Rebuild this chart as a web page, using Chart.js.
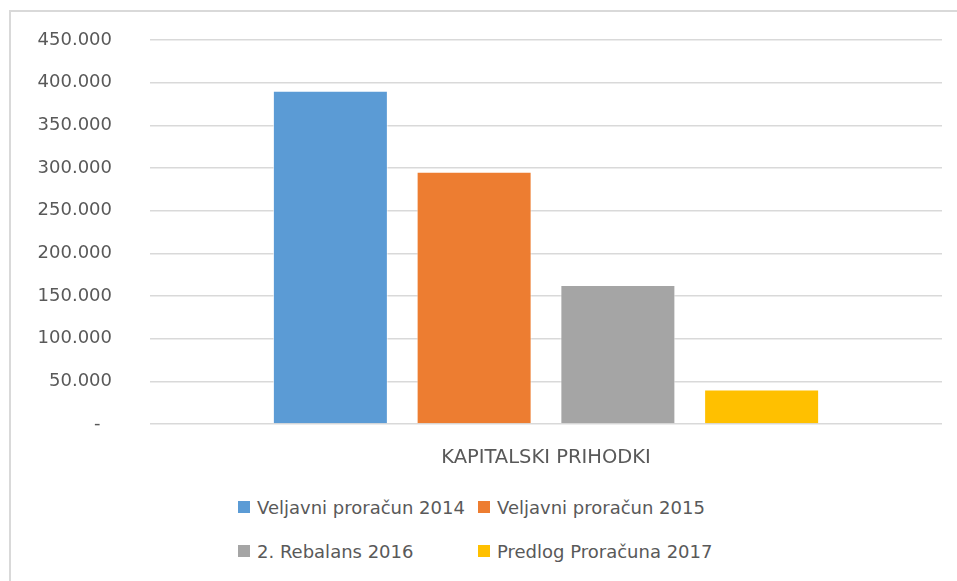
<!DOCTYPE html>
<html>
<head>
<meta charset="utf-8">
<script src="https://cdn.jsdelivr.net/npm/chart.js@4.4.1/dist/chart.umd.min.js"></script>
<style>
  html, body { margin: 0; padding: 0; background: #fff; overflow: hidden; }
  body { width: 957px; height: 581px; position: relative; }
  #frame { position: absolute; left: 9px; top: 10px; width: 1100px; height: 800px; border: 2px solid #d9d9d9; box-sizing: border-box; }
  #wrap { position: absolute; left: 0; top: 0; width: 957px; height: 481px; }
  #legend { position: absolute; left: 238px; top: 493px; display: grid; grid-template-columns: 240px 240px; row-gap: 16px;
    font-family: "DejaVu Sans", sans-serif; font-size: 18px; color: #595959; }
  #legend .item { display: flex; align-items: center; height: 28px; white-space: nowrap; }
  #legend .box { width: 12px; height: 12px; margin-right: 7px; flex: none; }
</style>
</head>
<body>
<div id="frame"></div>
<div id="wrap"><canvas id="myChart" width="957" height="481"></canvas></div>
<div id="legend"></div>
<script>
// data
const categories = ['KAPITALSKI PRIHODKI'];
const seriesNames = ['Veljavni proračun 2014', 'Veljavni proračun 2015', '2. Rebalans 2016', 'Predlog Proračuna 2017'];
const values2014 = [390500];
const values2015 = [295500];
const values2016 = [163000];
const values2017 = [40500];
const colors = ['#5B9BD5', '#ED7D31', '#A5A5A5', '#FFC000'];
const yMax = 450000;
const yStep = 50000;

const allValues = [values2014, values2015, values2016, values2017];

const ctx = document.getElementById('myChart');
const font = { family: '"DejaVu Sans", sans-serif', size: 18 };

const chartData = {
  labels: categories,
  datasets: seriesNames.map((name, i) => ({
    label: name,
    data: allValues[i],
    backgroundColor: colors[i],
    borderColor: 'rgba(255,255,255,0.6)',
    borderWidth: 1,
    categoryPercentage: 0.726,
    barPercentage: 0.8
  }))
};

const myChart = new Chart(ctx, {
  type: 'bar',
  data: chartData,
  options: {
    responsive: false,
    animation: false,
    layout: { padding: { left: 0, right: 15, top: 40, bottom: 0 } },
    plugins: {
      legend: { display: false },
      tooltip: { enabled: false }
    },
    scales: {
      x: {
        grid: { display: false },
        border: { display: false },
        ticks: { color: '#595959', font: { family: font.family, size: 19.5 }, padding: 14 },
        afterFit: (scale) => { scale.height = 57; }
      },
      y: {
        min: 0,
        max: yMax,
        border: { display: false },
        grid: { color: '#d9d9d9', lineWidth: 1.5, drawTicks: false },
        ticks: {
          stepSize: yStep,
          color: '#595959',
          font: font,
          padding: 38,
          callback: (v) => v === 0 ? '-  ' : v.toLocaleString('de-DE')
        },
        afterFit: (scale) => {
          scale.width = 150;
          // tick padding is horizontal spacing here, don't let it push the plot down
          scale.paddingTop = 10;
          scale.paddingBottom = 10;
        }
      }
    }
  }
});

// legend in two columns like the original
const legendEl = document.getElementById('legend');
chartData.datasets.forEach((ds) => {
  const item = document.createElement('div');
  item.className = 'item';
  const box = document.createElement('span');
  box.className = 'box';
  box.style.background = ds.backgroundColor;
  const txt = document.createElement('span');
  txt.textContent = ds.label;
  item.appendChild(box);
  item.appendChild(txt);
  legendEl.appendChild(item);
});
</script>
</body>
</html>
